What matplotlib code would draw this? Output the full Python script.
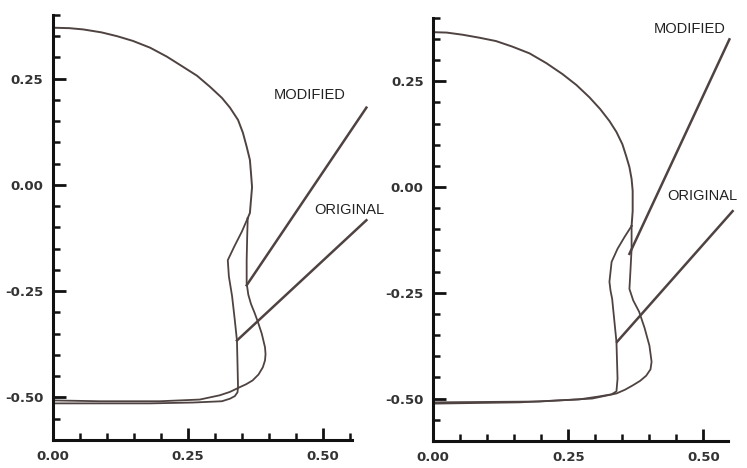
import matplotlib.pyplot as plt
from matplotlib.ticker import MultipleLocator

# Left panel: shared nose contour, then the original and modified lower sections
left_nose_x = [0.000, 0.030, 0.056, 0.090, 0.119, 0.148, 0.180, 0.211, 0.241, 0.267, 0.291, 0.313,
               0.328, 0.343, 0.352, 0.359, 0.365, 0.367, 0.369, 0.365, 0.361]
left_nose_y = [0.370, 0.369, 0.366, 0.359, 0.350, 0.339, 0.323, 0.302, 0.278, 0.257, 0.231, 0.205,
               0.182, 0.153, 0.123, 0.090, 0.059, 0.028, -0.005, -0.066, -0.078]

left_orig_x = [0.361, 0.350, 0.336, 0.324, 0.326, 0.332, 0.337, 0.341, 0.342, 0.343, 0.342, 0.337,
               0.328, 0.313, 0.260, 0.180, 0.000]
left_orig_y = [-0.078, -0.110, -0.145, -0.177, -0.215, -0.262, -0.318, -0.366, -0.420, -0.476,
               -0.488, -0.497, -0.503, -0.509, -0.512, -0.514, -0.514]

left_mod_x = [0.361, 0.360, 0.359, 0.359, 0.362, 0.367, 0.374, 0.380, 0.387, 0.393, 0.394, 0.393,
              0.389, 0.381, 0.370, 0.358, 0.346, 0.328, 0.309, 0.272, 0.198, 0.087, 0.000]
left_mod_y = [-0.078, -0.120, -0.177, -0.231, -0.258, -0.280, -0.302, -0.323, -0.350, -0.382,
              -0.398, -0.413, -0.429, -0.446, -0.460, -0.469, -0.476, -0.487, -0.495, -0.505,
              -0.509, -0.509, -0.507]

# Right panel
right_nose_x = [0.000, 0.025, 0.054, 0.085, 0.116, 0.146, 0.178, 0.209, 0.239, 0.265, 0.289, 0.309,
                0.326, 0.339, 0.350, 0.357, 0.363, 0.367, 0.369, 0.369, 0.367]
right_nose_y = [0.366, 0.365, 0.360, 0.353, 0.345, 0.332, 0.316, 0.293, 0.267, 0.241, 0.212, 0.184,
                0.156, 0.130, 0.101, 0.073, 0.047, 0.019, -0.009, -0.057, -0.092]

right_orig_x = [0.367, 0.354, 0.341, 0.330, 0.326, 0.328, 0.331, 0.335, 0.339, 0.340, 0.341, 0.339,
                0.330, 0.307, 0.270, 0.159, 0.000]
right_orig_y = [-0.092, -0.118, -0.146, -0.177, -0.224, -0.245, -0.264, -0.315, -0.366, -0.410,
                -0.453, -0.483, -0.490, -0.495, -0.502, -0.509, -0.512]

right_mod_x = [0.367, 0.367, 0.365, 0.363, 0.370, 0.381, 0.391, 0.400, 0.404, 0.402, 0.394, 0.383,
               0.369, 0.355, 0.339, 0.294, 0.196, 0.000]
right_mod_y = [-0.092, -0.146, -0.195, -0.241, -0.268, -0.295, -0.333, -0.375, -0.413, -0.431,
               -0.446, -0.458, -0.469, -0.479, -0.488, -0.500, -0.507, -0.509]

# Label leaders: (x_start, x_end), (y_start, y_end)
left_mod_leader = ([0.581, 0.359], [0.182, -0.236])
left_orig_leader = ([0.581, 0.341], [-0.083, -0.366])
right_mod_leader = ([0.548, 0.363], [0.349, -0.158])
right_orig_leader = ([0.554, 0.340], [-0.057, -0.366])

x_ticks = [0.0, 0.25, 0.5]
y_ticks = [-0.5, -0.25, 0.0, 0.25]

line_color = '#4f4342'

fig = plt.figure(figsize=(7.47, 4.68), dpi=100)
ax1 = fig.add_axes([0.071, 0.060, 0.400, 0.908])
ax2 = fig.add_axes([0.580, 0.058, 0.395, 0.904])


def style_axes(ax, xmax):
    ax.set_xlim(0, xmax)
    ax.set_ylim(-0.60, 0.40)
    for side in ['top', 'right']:
        ax.spines[side].set_visible(False)
    for side in ['left', 'bottom']:
        ax.spines[side].set_linewidth(2.2)
        ax.spines[side].set_color('#111111')
    ax.set_xticks(x_ticks)
    ax.set_yticks(y_ticks)
    ax.set_xticklabels(['%.2f' % v for v in x_ticks])
    ax.set_yticklabels(['%.2f' % v for v in y_ticks])
    ax.xaxis.set_minor_locator(MultipleLocator(0.05))
    ax.yaxis.set_minor_locator(MultipleLocator(0.05))
    ax.tick_params(which='major', direction='in', length=9, width=2, pad=7,
                   labelsize=9.5, labelcolor='#333333', color='#111111')
    ax.tick_params(which='minor', direction='in', length=5, width=1.8, color='#111111')
    for lbl in ax.get_xticklabels() + ax.get_yticklabels():
        lbl.set_fontweight('bold')
    ax.patch.set_alpha(0)


style_axes(ax1, 0.554)
style_axes(ax2, 0.546)

for ax, nose, orig, mod in [
        (ax1, (left_nose_x, left_nose_y), (left_orig_x, left_orig_y), (left_mod_x, left_mod_y)),
        (ax2, (right_nose_x, right_nose_y), (right_orig_x, right_orig_y), (right_mod_x, right_mod_y))]:
    ax.plot(*nose, color=line_color, lw=1.4, solid_joinstyle='round')
    ax.plot(*orig, color=line_color, lw=1.3, solid_joinstyle='round')
    ax.plot(*mod, color=line_color, lw=1.3, solid_joinstyle='round')

for ax, leader in [(ax1, left_mod_leader), (ax1, left_orig_leader),
                   (ax2, right_mod_leader), (ax2, right_orig_leader)]:
    ax.plot(*leader, color=line_color, lw=1.8, clip_on=False)

label_font = dict(family='Liberation Sans', fontsize=10.5, color='#222222', clip_on=False)
ax1.text(0.476, 0.212, 'MODIFIED', ha='center', va='center', **label_font)
ax1.text(0.485, -0.059, 'ORIGINAL', ha='left', va='center', **label_font)
ax2.text(0.474, 0.373, 'MODIFIED', ha='center', va='center', **label_font)
ax2.text(0.433, -0.021, 'ORIGINAL', ha='left', va='center', **label_font)

fig.savefig('out.png', dpi=100)
